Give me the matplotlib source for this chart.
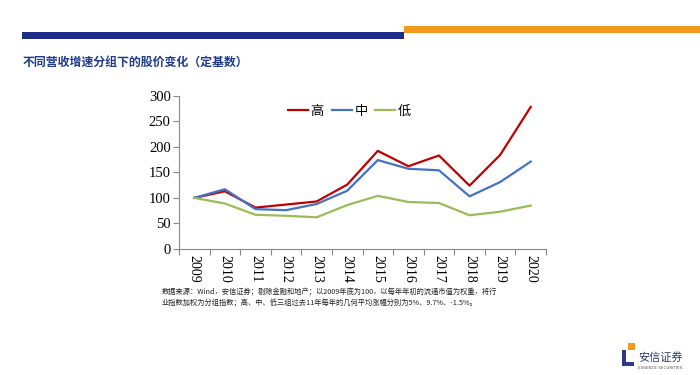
import matplotlib
matplotlib.use("Agg")
import matplotlib.pyplot as plt
from matplotlib.patches import Rectangle

years = ["2009", "2010", "2011", "2012", "2013", "2014",
         "2015", "2016", "2017", "2018", "2019", "2020"]
high = [100, 113, 81, 87, 93, 126, 192, 162, 183, 124, 184, 278]
mid = [100, 117, 78, 76, 88, 114, 174, 157, 154, 103, 131, 171]
low = [100, 89, 67, 65, 62, 86, 104, 92, 90, 66, 73, 85]
series_names = ["高", "中", "低"]
colors = ["#C00000", "#4472C4", "#9BBB59"]

title = "不同营收增速分组下的股价变化（定基数）"
note = ("数据来源：Wind，安信证券；剔除金融和地产；以2009年底为100，以每年年初的流通市值为权重，将行\n"
        "业指数加权为分组指数；高、中、低三组过去11年每年的几何平均涨幅分别为5%、9.7%、-1.5%。")

cjk = ["Noto Sans CJK SC", "DejaVu Sans"]
serif = "Liberation Serif"

fig = plt.figure(figsize=(7, 3.75), dpi=100)
fig.patch.set_facecolor("white")

# header bars
fig.add_artist(Rectangle((22 / 700, 1 - 39 / 375), (404 - 22) / 700, 7 / 375,
                         transform=fig.transFigure, color="#1F2C88", lw=0))
fig.add_artist(Rectangle((404 / 700, 1 - 33 / 375), (700 - 404) / 700, 7 / 375,
                         transform=fig.transFigure, color="#F39A1E", lw=0))
fig.text(23 / 700, 1 - 62 / 375, title, family=cjk, fontsize=8.6,
         fontweight="bold", color="#1F3A8C", va="center", ha="left")

ax = fig.add_axes([179 / 700, 1 - 249 / 375, (546 - 179) / 700, (249 - 95.7) / 375])
x = list(range(len(years)))
for vals, name, c in zip([high, mid, low], series_names, colors):
    ax.plot(x, vals, color=c, lw=1.6, label=name)

ax.set_xlim(-0.5, len(years) - 0.5)
ax.set_ylim(0, 300)
ax.set_yticks(range(0, 301, 50))
ax.set_xticks(x)
ax.set_xticklabels(years, rotation=-90, family=serif, fontsize=10)
ax.set_xticks([i - 0.5 for i in range(len(years) + 1)], minor=True)
ax.tick_params(axis="x", which="major", length=0, pad=4)
ax.tick_params(axis="x", which="minor", length=4, color="#888888", width=0.8)
ax.tick_params(axis="y", length=4, color="#888888", width=0.8, pad=2)
for lab in ax.get_yticklabels():
    lab.set_family(serif)
    lab.set_fontsize(10.5)
for s in ["top", "right"]:
    ax.spines[s].set_visible(False)
for s in ["left", "bottom"]:
    ax.spines[s].set_color("#888888")
    ax.spines[s].set_linewidth(0.8)

ax.legend(loc="upper center", bbox_to_anchor=(0.465, 1.02), ncol=3, frameon=False,
          prop={"family": cjk, "size": 9.5}, handlelength=1.5,
          handletextpad=0.2, columnspacing=0.6)

fig.text(162 / 700, 1 - 298 / 375, note, family=cjk, fontsize=5.2,
         color="#222222", va="center", ha="left", linespacing=1.4)

# logo
fig.add_artist(Rectangle((622 / 700, 1 - 366 / 375), 4 / 700, 16 / 375,
                         transform=fig.transFigure, color="#2B3A8F", lw=0))
fig.add_artist(Rectangle((622 / 700, 1 - 366 / 375), 12 / 700, 4 / 375,
                         transform=fig.transFigure, color="#2B3A8F", lw=0))
fig.add_artist(Rectangle((628 / 700, 1 - 350 / 375), 7 / 700, 7 / 375,
                         transform=fig.transFigure, color="#F39A1E", lw=0))
fig.text(638 / 700, 1 - 357 / 375, "安信证券", family=cjk, fontsize=8,
         color="#2B3A6F", va="center", ha="left")
fig.text(638 / 700, 1 - 368 / 375, "ESSENCE SECURITIES", fontsize=3,
         color="#555555", va="center", ha="left")

fig.savefig("out.png", dpi=100, facecolor="white")
